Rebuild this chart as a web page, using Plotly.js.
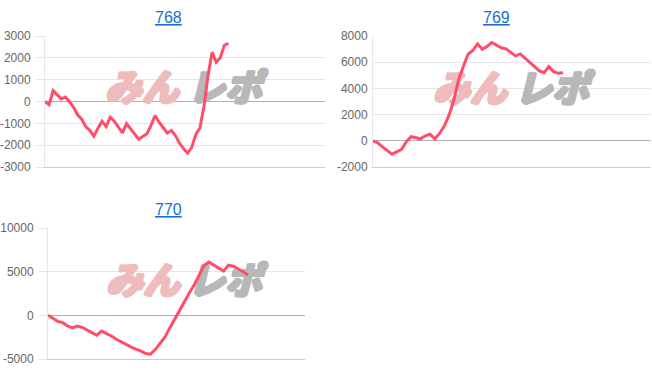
<!DOCTYPE html>
<html>
<head>
<meta charset="utf-8">
<script src="https://cdn.plot.ly/plotly-3.0.1.min.js"></script>
<style>html,body{margin:0;padding:0;background:#fff;}#chart{width:652px;height:382px;}</style>
</head>
<body>
<div id="chart"></div>
<script>
// ---- data ----
const titles = ["768", "769", "770"];
const series768 = [0, -150, 500, 320, 120, 200, 0, -260, -610, -810, -1150, -1330, -1590, -1220, -900, -1150, -720, -900, -1150, -1440, -1010, -1250, -1480, -1730, -1600, -1480, -1100, -640, -950, -1180, -1440, -1330, -1560, -1900, -2170, -2370, -2100, -1510, -1220, -230, 1190, 2260, 1800, 2000, 2570, 2670];
const series769 = [0, -150, -460, -770, -1020, -840, -660, -80, 310, 230, 150, 380, 510, 150, 560, 1120, 1960, 3110, 4640, 5660, 6610, 6890, 7400, 6990, 7200, 7500, 7270, 7100, 7020, 6730, 6480, 6630, 6300, 5970, 5610, 5330, 5200, 5660, 5280, 5150, 5200];
const series770 = [0, -340, -690, -840, -1220, -1450, -1220, -1370, -1710, -1980, -2280, -1790, -2090, -2360, -2740, -3050, -3310, -3620, -3880, -4070, -4380, -4450, -3920, -3240, -2470, -1410, -380, 570, 1600, 2590, 3500, 4640, 5710, 6090, 5750, 5440, 5060, 5750, 5630, 5330, 4990, 4610];
const ticks768 = [-3000, -2000, -1000, 0, 1000, 2000, 3000];
const ticks769 = [-2000, 0, 2000, 4000, 6000, 8000];
const ticks770 = [-5000, 0, 5000, 10000];
const watermark = ["みん", "レポ"];
const tickText = v => v.map(t => String(t));
const idx = arr => arr.map((_, i) => i);

// ---- layout helpers ----
const W = 652, H = 382;
const px = x => x / W;
const py = y => 1 - y / H;
const lineColor = 'rgb(255,77,106)';
const gridColor = '#e6e6e6';
const pink = 'rgb(238,188,188)';
const gray = 'rgb(184,184,184)';

// plot boxes in pixels: [left, right, top, bottom]
const boxes = [[45, 325, 36, 167], [373, 651, 36, 167], [48, 305, 228, 359]];
// watermark word centres in pixels
const marks = [[[142, 92], [225, 92]], [[470, 93], [552, 93]], [[143, 285], [225, 285]]];

function shadow(c) {
  return ['1px 0 0 ', '-1px 0 0 ', '0 1px 0 ', '0 -1px 0 ', '1px 1px 0 ', '-1px -1px 0 ', '1px -1px 0 ', '-1px 1px 0 ']
    .map(s => s + c).join(', ');
}

function markTrace(k, wordIdx, color) {
  const b = boxes[k];
  const m = marks[k][wordIdx];
  const s = String(k + 1) === '1' ? '' : String(k + 1);
  return {
    x: [(m[0] - b[0]) / (b[1] - b[0])], y: [(b[3] - m[1]) / (b[3] - b[2])],
    type: 'scatter', mode: 'text', text: [watermark[wordIdx]],
    textposition: 'middle center',
    textfont: {family: 'Noto Sans CJK JP', size: 37, style: 'italic', weight: 900, color: color, shadow: shadow(color)},
    xaxis: 'x' + s, yaxis: 'y' + s, hoverinfo: 'skip', showlegend: false, cliponaxis: false
  };
}
function trace(vals, n) {
  return {
    x: idx(vals), y: vals, type: 'scatter', mode: 'lines',
    xaxis: 'x' + n, yaxis: 'y' + n,
    line: {color: lineColor, width: 3, shape: 'linear'},
    hoverinfo: 'skip', showlegend: false
  };
}
function baseX(k, anchor) {
  const b = boxes[k];
  return {domain: [px(b[0]), px(b[1])], range: [0, 1], anchor: anchor, visible: false, fixedrange: true};
}
function baseY(k, anchor) {
  const b = boxes[k];
  return {domain: [py(b[3]), py(b[2])], range: [0, 1], anchor: anchor, visible: false, fixedrange: true};
}
function dataX(over, maxX, anchor) {
  return {overlaying: over, range: [0, maxX], anchor: anchor, showgrid: false, zeroline: false,
    showticklabels: false, ticks: '', showline: true, linecolor: '#cccccc', linewidth: 1,
    side: 'bottom', fixedrange: true};
}
function dataY(over, range, tv, tickOut, standoff, anchor) {
  return {overlaying: over, range: range, anchor: anchor, side: 'left', tickvals: tv, ticktext: tickText(tv),
    showgrid: true, gridcolor: gridColor, gridwidth: 1,
    zeroline: true, zerolinecolor: '#b0b0b0', zerolinewidth: 1,
    showline: true, linecolor: '#e6e6e6', linewidth: 1,
    ticks: tickOut ? 'outside' : '', ticklen: 8, tickcolor: gridColor,
    ticklabelstandoff: standoff,
    tickfont: {family: 'Liberation Sans, Arial, sans-serif', size: 12, color: '#666'},
    fixedrange: true};
}

const data = [
  markTrace(0, 0, pink), markTrace(0, 1, gray),
  markTrace(1, 0, pink), markTrace(1, 1, gray),
  markTrace(2, 0, pink), markTrace(2, 1, gray),
  trace(series768, 4), trace(series769, 5), trace(series770, 6)
];

function title(text, x, y) {
  return {text: '<u>' + text + '</u>', xref: 'paper', yref: 'paper', x: px(x), y: py(y),
    xanchor: 'center', yanchor: 'middle', showarrow: false,
    font: {family: 'Liberation Sans, Arial, sans-serif', size: 16, color: '#1a6fd0'}};
}

const layout = {
  width: W, height: H, margin: {l: 0, r: 0, t: 0, b: 0},
  paper_bgcolor: '#fff', plot_bgcolor: 'rgba(0,0,0,0)', showlegend: false,
  xaxis: baseX(0, 'y'), yaxis: baseY(0, 'x'),
  xaxis2: baseX(1, 'y2'), yaxis2: baseY(1, 'x2'),
  xaxis3: baseX(2, 'y3'), yaxis3: baseY(2, 'x3'),
  xaxis4: dataX('x', 68.7, 'y4'),
  yaxis4: dataY('y', [-3000, 3000], ticks768, true, 3, 'x4'),
  xaxis5: dataX('x2', 58.5, 'y5'),
  yaxis5: dataY('y2', [-2000, 8000], ticks769, false, 2, 'x5'),
  xaxis6: dataX('x3', 52.7, 'y6'),
  yaxis6: dataY('y3', [-5000, 10000], ticks770, true, 3, 'x6'),
  annotations: [title(titles[0], 168, 17), title(titles[1], 496, 17), title(titles[2], 168, 209)]
};

Plotly.newPlot('chart', data, layout, {staticPlot: true, displayModeBar: false});
</script>
</body>
</html>
